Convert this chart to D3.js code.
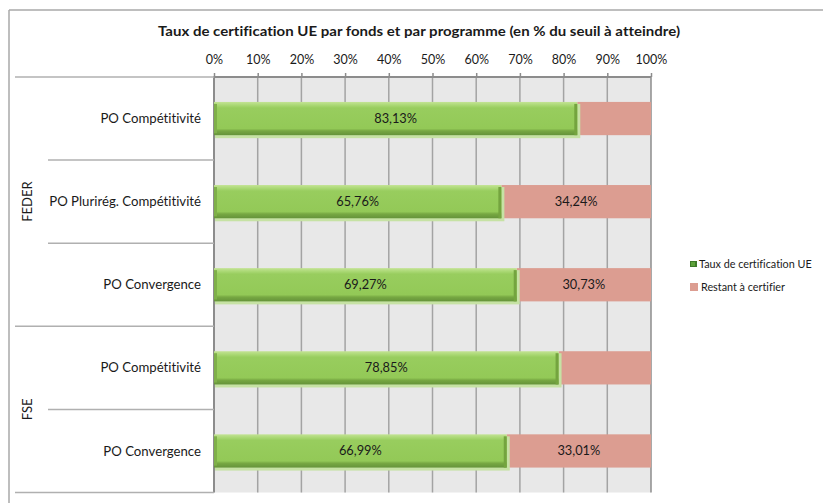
<!DOCTYPE html>
<html>
<head>
<meta charset="utf-8">
<script src="https://cdn.jsdelivr.net/npm/d3@7"></script>
<style>
  html, body { margin: 0; padding: 0; background: #fff; }
  svg { display: block; }
  text { font-family: Lato, "Open Sans", sans-serif; fill: #1a1a1a; font-variant-ligatures: none; }
</style>
</head>
<body>
<svg id="chart" width="823" height="503"></svg>
<script>
// ---- data ----
const title = "Taux de certification UE par fonds et par programme (en % du seuil à atteindre)";
const funds = ["FEDER", "FEDER", "FEDER", "FSE", "FSE"];
const programmes = ["PO Compétitivité", "PO Plurirég. Compétitivité", "PO Convergence", "PO Compétitivité", "PO Convergence"];
const certified = [83.13, 65.76, 69.27, 78.85, 66.99];
const remaining = [16.87, 34.24, 30.73, 21.15, 33.01];
const showRemainingLabel = [false, true, true, false, true];
const xTicks = [0, 10, 20, 30, 40, 50, 60, 70, 80, 90, 100];
const seriesNames = ["Taux de certification UE", "Restant à certifier"];
</script>
<script>
const svg = d3.select("#chart");
const W = 823, H = 503;
const plot = { left: 214, right: 651, top: 77, bottom: 492.5 };
const pink = "#dc9d91";
const fmt = v => d3.format(".2f")(v).replace(".", ",") + "%";

// chart border (top and left visible)
svg.append("line").attr("x1", 9).attr("x2", W).attr("y1", 10).attr("y2", 10).attr("stroke", "#a8a8a8").attr("stroke-width", 1.5);
svg.append("line").attr("x1", 9).attr("x2", 9).attr("y1", 10).attr("y2", H).attr("stroke", "#a8a8a8").attr("stroke-width", 1.5);

// title
svg.append("text").attr("x", 419).attr("y", 36).attr("text-anchor", "middle")
  .style("font-weight", "bold").style("font-size", "14px")
  .attr("textLength", 522).attr("lengthAdjust", "spacingAndGlyphs")
  .text(title);

const x = d3.scaleLinear().domain([0, 100]).range([plot.left, plot.right]);
const keys = programmes.map((p, i) => i);
const y = d3.scaleBand().domain(keys).range([plot.top, plot.bottom]).paddingInner(0.6).paddingOuter(0.3);
const yOuter = d3.scaleBand().domain(keys).range([plot.top, plot.bottom]);

// plot background
svg.append("rect").attr("x", plot.left).attr("y", plot.top).attr("width", plot.right - plot.left)
  .attr("height", plot.bottom - plot.top).attr("fill", "#e8e8e8");

// gridlines
svg.append("g").selectAll("line").data(xTicks.filter(t => t > 0)).join("line")
  .attr("x1", d => x(d)).attr("x2", d => x(d)).attr("y1", plot.top).attr("y2", plot.bottom)
  .attr("stroke", d => d === 100 ? "#8c8c8c" : "#a3a3a3").attr("stroke-width", 1.5);

// top axis
const axis = d3.axisTop(x).tickValues(xTicks).tickFormat(d => d + "%").tickSize(4).tickPadding(9);
const gAxis = svg.append("g").attr("transform", `translate(0,${plot.top})`).call(axis);
gAxis.select(".domain").attr("stroke", "#8c8c8c").attr("stroke-width", 2).attr("d", `M${plot.left},0H${plot.right}`);
gAxis.selectAll(".tick line").attr("stroke", "#8c8c8c").attr("stroke-width", 1.5);
gAxis.selectAll(".tick text").style("font-size", "12.5px").style("font-family", "Lato, sans-serif").attr("fill", "#1a1a1a");

// left axis line
svg.append("line").attr("x1", plot.left).attr("x2", plot.left).attr("y1", plot.top - 1).attr("y2", plot.bottom)
  .attr("stroke", "#8c8c8c").attr("stroke-width", 2);

// category separators in label area
const lineCol = "#b0b0b0";
keys.forEach(i => {
  const yTop = yOuter(i);
  const isGroupStart = i === 0 || funds[i] !== funds[i - 1];
  svg.append("line").attr("x1", isGroupStart ? 15 : 48).attr("x2", plot.left).attr("y1", yTop).attr("y2", yTop)
    .attr("stroke", lineCol).attr("stroke-width", 1.5);
});
svg.append("line").attr("x1", 15).attr("x2", plot.left).attr("y1", plot.bottom).attr("y2", plot.bottom)
  .attr("stroke", lineCol).attr("stroke-width", 1.5);

// category labels
svg.append("g").selectAll("text").data(keys).join("text")
  .attr("x", 201).attr("y", i => y(i) + y.bandwidth() / 2).attr("dy", "0.35em")
  .attr("text-anchor", "end").style("font-size", "13.2px").text(i => programmes[i]);

// group labels
const groups = Array.from(new Set(funds));
groups.forEach(g => {
  const idx = keys.filter(i => funds[i] === g);
  const y0 = yOuter(idx[0]), y1 = yOuter(idx[idx.length - 1]) + yOuter.bandwidth();
  const cy = (y0 + y1) / 2;
  svg.append("text").attr("transform", `translate(27,${cy}) rotate(-90)`).attr("dy", "0.35em")
    .attr("text-anchor", "middle").style("font-size", "13px").text(g);
});

// gradients for green bevel
const defs = svg.append("defs");
const gv = defs.append("linearGradient").attr("id", "gv").attr("x1", 0).attr("x2", 0).attr("y1", 0).attr("y2", 1);
[[0, "#c3e394"], [0.1, "#aad874"], [0.18, "#98cd5e"], [0.8, "#93c957"], [0.87, "#77a842"], [1, "#65933a"]]
  .forEach(([o, c]) => gv.append("stop").attr("offset", o).attr("stop-color", c));

// bars
const bars = svg.append("g");
keys.forEach(i => {
  const by = y(i), bh = y.bandwidth();
  // remaining (pink)
  bars.append("rect").attr("x", x(certified[i])).attr("y", by).attr("width", x(certified[i] + remaining[i]) - x(certified[i]))
    .attr("height", bh).attr("fill", pink);
  // certified green, with bevel
  const gx = x(0), gw = x(certified[i]) - x(0);
  bars.append("rect").attr("x", gx + 1).attr("y", by + 2).attr("width", gw + 2).attr("height", bh + 1).attr("fill", "#c6e2a4");
  bars.append("rect").attr("x", gx).attr("y", by).attr("width", gw).attr("height", bh).attr("fill", "url(#gv)");
  bars.append("rect").attr("x", gx + gw - 3).attr("y", by + 2).attr("width", 3).attr("height", bh - 2).attr("fill", "#74a43f");
  bars.append("rect").attr("x", gx).attr("y", by + 2).attr("width", 3).attr("height", bh - 4).attr("fill", "#7fb049");
});

// value labels
keys.forEach(i => {
  const cy = y(i) + y.bandwidth() / 2;
  svg.append("text").attr("x", (x(0) + x(certified[i])) / 2).attr("y", cy).attr("dy", "0.35em")
    .attr("text-anchor", "middle").style("font-size", "12.8px").text(fmt(certified[i]));
  if (showRemainingLabel[i]) {
    svg.append("text").attr("x", (x(certified[i]) + x(certified[i] + remaining[i])) / 2).attr("y", cy).attr("dy", "0.35em")
      .attr("text-anchor", "middle").style("font-size", "12.8px").text(fmt(remaining[i]));
  }
});

// legend
const legend = svg.append("g").attr("transform", "translate(690,264)");
seriesNames.forEach((s, k) => {
  const g = legend.append("g").attr("transform", `translate(0,${k * 23})`);
  if (k === 0) {
    g.append("rect").attr("x", 0).attr("y", -3).attr("width", 7).attr("height", 6).attr("fill", "#3e7a28");
    g.append("rect").attr("x", 1).attr("y", -2).attr("width", 4).attr("height", 4).attr("fill", "#5ea23a");
  } else {
    g.append("rect").attr("x", 0).attr("y", -4).attr("width", 8).attr("height", 8).attr("fill", pink);
  }
  g.append("text").attr("x", k === 0 ? 9 : 11).attr("y", 0).attr("dy", "0.35em").style("font-size", "10.8px").text(s);
});
</script>
</body>
</html>
